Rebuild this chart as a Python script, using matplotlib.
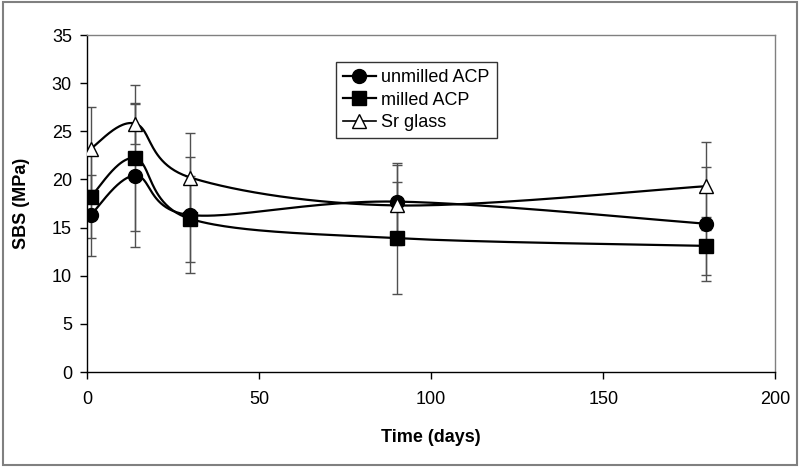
import numpy as np
import matplotlib
matplotlib.use('Agg')
import matplotlib.pyplot as plt
from matplotlib.patches import Rectangle
from matplotlib.lines import Line2D

plt.rcParams['font.family'] = ['Liberation Sans', 'DejaVu Sans']

days = [1, 14, 30, 90, 180]
unmilled = [16.3, 20.4, 16.3, 17.7, 15.4]
unmilled_err = [4.2, 7.4, 6.0, 4.0, 5.9]
milled = [18.2, 22.2, 15.9, 13.9, 13.1]
milled_err = [4.3, 7.6, 4.5, 5.8, 3.0]
sr_glass = [23.2, 25.8, 20.2, 17.3, 19.3]
sr_glass_err = [4.3, 2.1, 4.6, 4.15, 4.6]

labels = ['unmilled ACP', 'milled ACP', 'Sr glass']
xticks = [0, 50, 100, 150, 200]
yticks = [0, 5, 10, 15, 20, 25, 30, 35]

fig = plt.figure(figsize=(8, 4.67), dpi=100)
ax = fig.add_axes([0.109, 0.2034, 0.86, 0.7216])
ax.set_xlim(0, 200)
ax.set_ylim(0, 35)


def smooth(ax, x, y, n=50):
    pts = ax.transData.transform(np.column_stack([x, y]))
    P = np.vstack([pts[0], pts, pts[-1]])
    out = []
    t = np.linspace(0, 1, n)[:, None]
    for i in range(1, len(P) - 2):
        p0, p1, p2, p3 = P[i - 1], P[i], P[i + 1], P[i + 2]
        c1 = p1 + (p2 - p0) / 6
        c2 = p2 - (p3 - p1) / 6
        seg = (1 - t) ** 3 * p1 + 3 * (1 - t) ** 2 * t * c1 + 3 * (1 - t) * t ** 2 * c2 + t ** 3 * p2
        out.append(seg if i == 1 else seg[1:])
    return ax.transData.inverted().transform(np.vstack(out))


series = [
    (unmilled, unmilled_err, 'o', 'black', 10),
    (milled, milled_err, 's', 'black', 9.5),
    (sr_glass, sr_glass_err, '^', 'white', 10.5),
]

for vals, errs, mk, fc, ms in series:
    ax.errorbar(days, vals, yerr=errs, fmt='none', ecolor='#505050',
                elinewidth=1.0, capsize=3.5, capthick=1.0, zorder=2)
for vals, errs, mk, fc, ms in series:
    c = smooth(ax, days, vals)
    ax.plot(c[:, 0], c[:, 1], color='black', lw=1.6, zorder=3)
for vals, errs, mk, fc, ms in series:
    ax.plot(days, vals, linestyle='none', marker=mk, markersize=ms,
            markerfacecolor=fc, markeredgecolor='black', markeredgewidth=1.0, zorder=4)

ax.set_xticks(xticks)
ax.set_yticks(yticks)
ax.tick_params(direction='out', length=5, width=1, labelsize=13, colors='black')
ax.tick_params(axis='x', pad=9)
ax.tick_params(axis='y', pad=6)
for s in ['left', 'bottom']:
    ax.spines[s].set_color('black')
    ax.spines[s].set_linewidth(1)
for s in ['top', 'right']:
    ax.spines[s].set_color('#808080')
    ax.spines[s].set_linewidth(1)

ax.set_xlabel('Time (days)', fontsize=13, fontweight='bold', labelpad=15)
ax.set_ylabel('SBS (MPa)', fontsize=13, fontweight='bold', labelpad=16)

handles = [
    Line2D([], [], color='black', lw=1.6, marker='o', markersize=10, markerfacecolor='black', markeredgecolor='black'),
    Line2D([], [], color='black', lw=1.6, marker='s', markersize=9.5, markerfacecolor='black', markeredgecolor='black'),
    Line2D([], [], color='black', lw=1.2, marker='^', markersize=10.5, markerfacecolor='white', markeredgecolor='black'),
]
leg = ax.legend(handles, labels, loc='upper left', bbox_to_anchor=(0.42, 0.867),
                bbox_transform=fig.transFigure, borderaxespad=0, fontsize=13,
                frameon=True, fancybox=False, handlelength=1.8, handletextpad=0.3,
                borderpad=0.4, labelspacing=0.3)
leg.get_frame().set_edgecolor('black')
leg.get_frame().set_linewidth(1)

fig.patches.append(Rectangle((0.004, 0.005), 0.992, 0.99, transform=fig.transFigure,
                             fill=False, edgecolor='#808080', lw=1.5))

fig.savefig('out.png', dpi=100, facecolor='white')
